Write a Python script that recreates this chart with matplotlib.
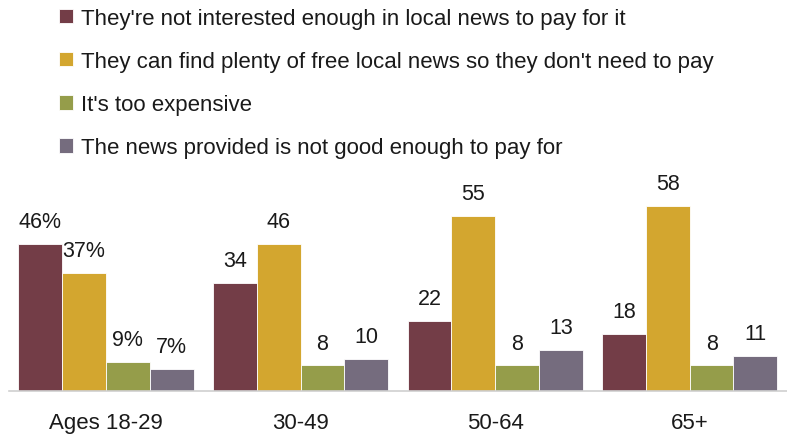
import matplotlib
matplotlib.use("Agg")
import matplotlib.pyplot as plt
import numpy as np

plt.rcParams['font.family'] = ['Liberation Sans', 'DejaVu Sans']

categories = ["Ages 18-29", "30-49", "50-64", "65+"]
series_names = [
    "They're not interested enough in local news to pay for it",
    "They can find plenty of free local news so they don't need to pay",
    "It's too expensive",
    "The news provided is not good enough to pay for",
]
not_interested = [46, 34, 22, 18]
free_news = [37, 46, 55, 58]
too_expensive = [9, 8, 8, 8]
not_good_enough = [7, 10, 13, 11]
colors = ["#733D47", "#D3A62F", "#959D4A", "#756C7E"]

values = [not_interested, free_news, too_expensive, not_good_enough]

fig = plt.figure(figsize=(7.87, 4.35), dpi=100)
ax = fig.add_axes([0.011, 0.0989, 0.989, 0.4767])

x = np.arange(len(categories))
width = 0.225
handles = []
for i, (vals, col) in enumerate(zip(values, colors)):
    pos = x + (i - 1.5) * width
    bars = ax.bar(pos, vals, width=width, color=col, edgecolor='white', linewidth=0.6)
    handles.append(bars)
    for j, (p, v) in enumerate(zip(pos, vals)):
        label = f"{v}%" if j == 0 else f"{v}"
        ax.annotate(label, (p, v), xytext=(0, 8.5), textcoords='offset points',
                    ha='center', va='bottom', fontsize=15.5, color='#1a1a1a')

ax.set_xlim(-0.5, 3.5)
ax.set_ylim(0, 65)
ax.set_xticks(x)
ax.set_xticklabels(categories, fontsize=16, color='#1a1a1a')
ax.tick_params(axis='x', length=0, pad=15)
ax.set_yticks([])
for side in ['top', 'right', 'left']:
    ax.spines[side].set_visible(False)
ax.spines['bottom'].set_color('#d0d0d0')
ax.spines['bottom'].set_linewidth(1.2)

fig.legend(handles, series_names, loc='upper left', bbox_to_anchor=(0.0756, 0.98),
           frameon=False, fontsize=16, handlelength=0.62, handleheight=0.62,
           handletextpad=0.35, labelspacing=1.0, borderaxespad=0.0,
           borderpad=0.0, labelcolor='#1a1a1a')

fig.savefig("out.png", dpi=100)
